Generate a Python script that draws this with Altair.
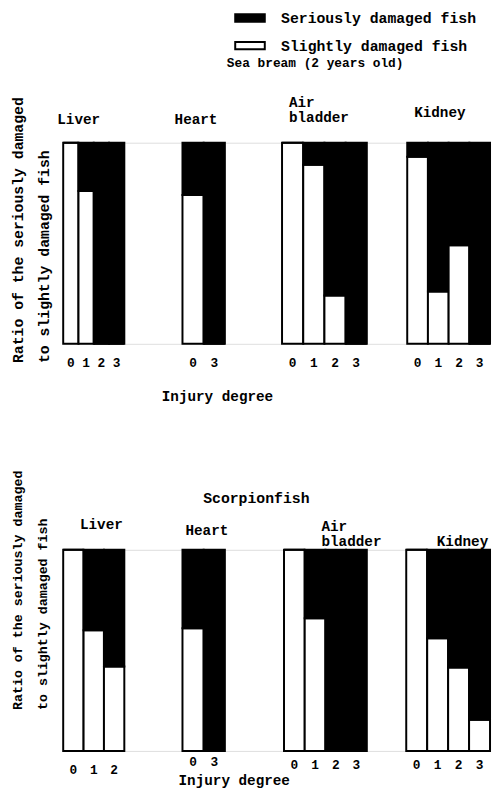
import altair as alt
import pandas as pd

FONT = "Liberation Mono"
SERIOUS = "Seriously damaged fish"
SLIGHT = "Slightly damaged fish"

# ---- data: share of slightly damaged fish (white part); the rest is seriously damaged ----
# Sea bream (2 years old)
sb_liver_deg = ["0", "1", "2", "3"]
sb_liver_slight = [1.0, 0.76, 0.0, 0.0]
sb_heart_deg = ["0", "3"]
sb_heart_slight = [0.74, 0.0]
sb_air_deg = ["0", "1", "2", "3"]
sb_air_slight = [1.0, 0.89, 0.24, 0.0]
sb_kid_deg = ["0", "1", "2", "3"]
sb_kid_slight = [0.93, 0.26, 0.49, 0.0]

# Scorpionfish
sc_liver_deg = ["0", "1", "2"]
sc_liver_slight = [1.0, 0.60, 0.42]
sc_heart_deg = ["0", "3"]
sc_heart_slight = [0.61, 0.0]
sc_air_deg = ["0", "1", "2", "3"]
sc_air_slight = [1.0, 0.66, 0.0, 0.0]
sc_kid_deg = ["0", "1", "2", "3"]
sc_kid_slight = [1.0, 0.56, 0.415, 0.155]

YTITLE = ["Ratio of the seriously damaged", "to slightly damaged fish"]
XTITLE = "Injury degree"
H = 204


def panel(degrees, slight, slot, frame, height, ptitle, pdx, poff, lpad,
          ytitle=None, ytx=0, yty=0, ysize=14, ylh=26,
          xtitle=None, xtx=0, xty=0):
    deg_col, grp_col, val_col, ord_col = [], [], [], []
    for d, s in zip(degrees, slight):
        deg_col += [d, d]
        grp_col += [SLIGHT, SERIOUS]
        val_col += [s, round(1 - s, 4)]
        ord_col += [0, 1]
    df = pd.DataFrame({"degree": deg_col, "group": grp_col,
                       "value": val_col, "ord": ord_col})

    xaxis = dict(labelAngle=0, labelFont=FONT, labelFontSize=13,
                 labelFontWeight="bold", labelColor="black", ticks=False,
                 domain=False, labelPadding=lpad, title=None)
    if xtitle:
        xaxis.update(title=xtitle, titleFont=FONT, titleFontSize=14.5,
                     titleFontWeight="bold", titleColor="black",
                     titleX=xtx, titleY=xty, titleBaseline="middle")
    if ytitle:
        yaxis = alt.Axis(title=ytitle, labels=False, ticks=False, domain=False,
                         grid=False, titleFont=FONT, titleFontSize=ysize,
                         titleFontWeight="bold", titleColor="black",
                         titleX=ytx, titleY=yty, titleAngle=270,
                         titleAlign="left", titleBaseline="top",
                         titleLineHeight=ylh)
    else:
        yaxis = None

    return alt.Chart(df).mark_bar(stroke="black", strokeWidth=2).encode(
        x=alt.X("degree:N", sort=degrees,
                scale=alt.Scale(paddingInner=0, paddingOuter=0,
                                range=[0, frame]),
                axis=alt.Axis(**xaxis)),
        y=alt.Y("value:Q", stack="zero",
                scale=alt.Scale(domain=[0, 1], nice=False), axis=yaxis),
        color=alt.Color("group:N",
                        scale=alt.Scale(domain=[SERIOUS, SLIGHT],
                                        range=["black", "white"]),
                        legend=alt.Legend(
                            title=None, orient="none", legendX=181,
                            legendY=-135, direction="vertical",
                            symbolType="M-2,-0.5H2V0.5H-2Z", symbolSize=225,
                            symbolStrokeColor="black", symbolStrokeWidth=2,
                            labelFont=FONT, labelFontSize=15,
                            labelFontWeight="bold", labelColor="black",
                            labelOffset=23, labelLimit=400, rowPadding=11,
                            padding=0)),
        order=alt.Order("ord:Q"),
    ).properties(
        width=slot, height=height,
        title=alt.TitleParams(text=ptitle, anchor="start", frame="group",
                              dx=pdx, offset=poff, font=FONT, fontSize=14.5,
                              fontWeight="bold", color="black", lineHeight=16),
    )


# ---- top row: sea bream ----
t_liver = panel(sb_liver_deg, sb_liver_slight, 121, 62, H, "Liver", -6, -32, 13,
                ytitle=YTITLE, ytx=-53, yty=223, ysize=15, ylh=26)
t_heart = panel(sb_heart_deg, sb_heart_slight, 101, 43, H, "Heart", -8, 14, 13,
                xtitle=XTITLE, xtx=35, xty=54)
t_air = panel(sb_air_deg, sb_air_slight, 127, 86, H, ["Air", "bladder"], 7, 16, 13)
t_kid = panel(sb_kid_deg, sb_kid_slight, 84, 84, H, "Kidney", 7, 22, 13)

row1 = alt.hconcat(
    t_liver, t_heart, t_air, t_kid, spacing=0, bounds="flush",
    title=alt.TitleParams(text="Sea bream (2 years old)", anchor="start",
                          frame="group", dx=166, offset=25, font=FONT,
                          fontSize=13, fontWeight="bold", color="black"),
)

# ---- bottom row: scorpionfish ----
b_liver = panel(sc_liver_deg, sc_liver_slight, 121, 62, H, "Liver", 17, -63, 13,
                ytitle=YTITLE, ytx=-53, yty=162, ysize=13.5, ylh=25)
b_heart = panel(sc_heart_deg, sc_heart_slight, 103, 43, H, "Heart", 3, 11, 5,
                xtitle=XTITLE, xtx=52, xty=30)
b_air = panel(sc_air_deg, sc_air_slight, 124, 84, H, ["Air", "bladder"], 38, -1, 8)
b_kid = panel(sc_kid_deg, sc_kid_slight, 85, 85, H, "Kidney", 31, -1, 8)

row2 = alt.hconcat(
    b_liver, b_heart, b_air, b_kid, spacing=0, bounds="flush",
    title=alt.TitleParams(text="Scorpionfish", anchor="start",
                          frame="group", dx=142, offset=-37, font=FONT,
                          fontSize=15, fontWeight="bold", color="black"),
)

chart = alt.vconcat(row1, row2, spacing=66).resolve_scale(
    color="shared").resolve_legend(color="shared").properties(
    padding={"left": 2, "top": -4, "right": 0, "bottom": -2}
).configure_view(strokeWidth=0).configure(background="white")

chart.save("out.html", embed_options={"renderer": "svg", "actions": False})
